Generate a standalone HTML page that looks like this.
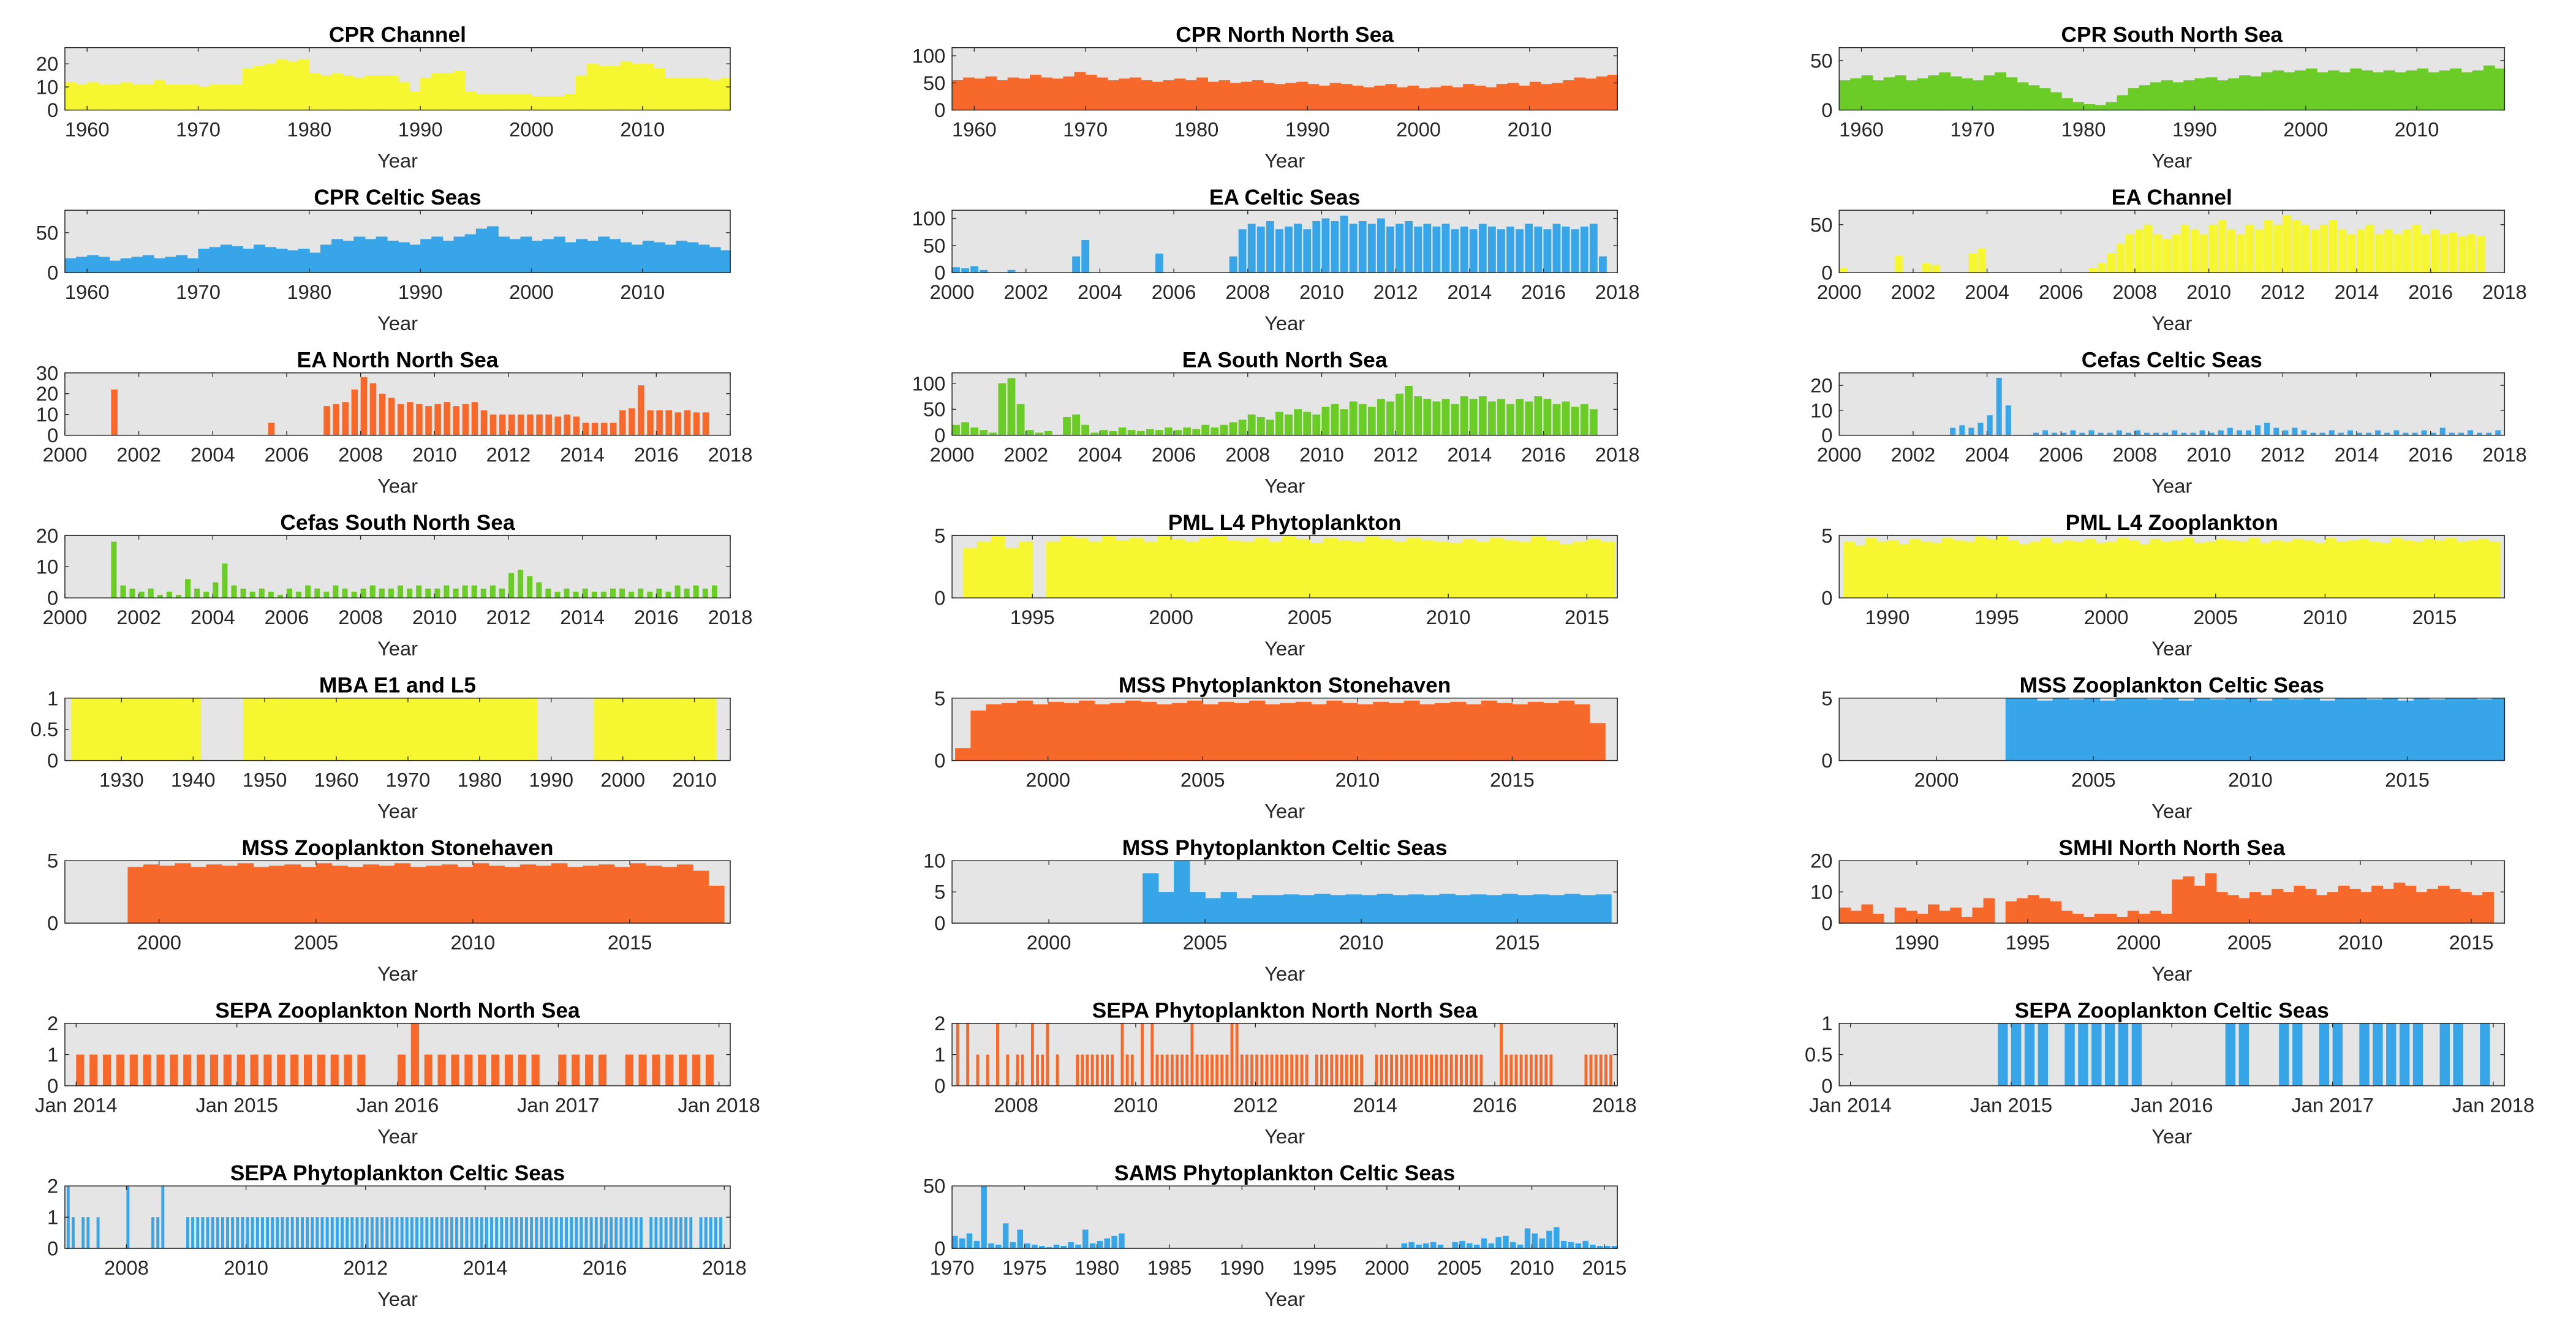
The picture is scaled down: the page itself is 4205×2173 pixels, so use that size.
<!DOCTYPE html>
<html><head><meta charset="utf-8"><style>
html,body{margin:0;padding:0;background:#fff;}
svg{display:block;}
text{font-family:"Liberation Sans",Arial,sans-serif;fill:#262626;}
.t{font-weight:bold;font-size:13.2px;fill:#000;}
.k{font-size:12.2px;}
</style></head><body>
<svg id="fig" xmlns="http://www.w3.org/2000/svg" width="4205" height="2173" viewBox="0 0 1568 810.3" preserveAspectRatio="none"></svg>
<script>
// ---- data arrays ----
const cprChannelVals=[12,11,12,11,11,12,11,11,13,11,11,11,10,11,11,11,18,19,20,22,21,22,16,15,16,15,14,15,15,15,12,8,14,16,16,17,8,7,7,7,7,7,6,6,6,7,15,20,19,19,21,20,20,18,14,14,14,14,13,14];
const cprNNSVals=[55,60,58,62,55,60,58,65,60,58,62,70,65,60,55,58,60,55,52,55,58,55,60,52,55,50,52,55,50,48,50,52,48,45,50,48,45,42,45,48,42,45,40,42,45,42,48,45,42,48,50,45,52,48,50,55,60,58,62,65];
const cprSNSVals=[30,32,35,30,33,35,30,32,35,38,34,32,30,35,38,33,28,25,22,18,12,8,6,5,8,15,22,25,28,30,28,30,32,33,30,32,35,34,38,40,38,40,42,38,40,38,42,40,38,40,38,40,42,38,40,42,38,40,45,42];
const cprCelticVals=[18,20,22,20,15,18,20,22,18,20,22,18,30,32,35,33,30,35,32,30,28,30,25,35,42,40,45,42,45,40,38,35,42,45,40,45,48,55,58,45,42,45,40,42,45,38,42,40,45,42,38,35,40,38,35,40,38,35,32,28];
const eaCelticVals=[10,8,12,5,0,0,5,0,0,0,0,0,0,30,60,0,0,0,0,0,0,0,35,0,0,0,0,0,0,0,30,80,90,85,95,80,85,90,80,95,100,95,105,90,95,90,100,85,90,95,85,90,85,90,80,85,80,90,85,80,85,80,90,85,80,90,85,80,85,90,30,0];
const eaChannelVals=[5,0,0,0,0,0,18,0,0,10,8,0,0,0,20,25,0,0,0,0,0,0,0,0,0,0,0,5,10,20,30,40,45,50,40,35,40,50,45,40,50,55,45,40,50,45,55,50,60,55,50,45,50,55,45,40,45,50,40,45,40,45,50,40,45,40,42,38,40,38,0,0];
const eaNNSVals=[0,0,0,0,0,22,0,0,0,0,0,0,0,0,0,0,0,0,0,0,0,0,6,0,0,0,0,0,14,15,16,22,28,25,20,18,15,16,15,14,15,16,14,15,16,12,10,10,10,10,10,10,10,9,10,9,6,6,6,6,12,13,24,12,12,12,11,12,11,11,0,0];
const eaSNSVals=[20,25,15,10,5,100,110,60,10,5,8,0,35,40,20,5,10,8,15,10,8,12,10,15,10,15,12,20,15,20,25,30,40,35,30,45,40,50,45,40,55,60,50,65,60,55,70,65,80,95,75,70,65,70,60,75,70,75,65,70,60,70,65,75,70,60,65,55,60,50,0,0];
const cefasCelticVals=[0,0,0,0,0,0,0,0,0,0,0,0,3,4,3,5,8,23,12,0,0,1,2,1,1,2,1,2,1,1,2,1,2,1,1,1,2,1,1,2,1,2,3,2,2,4,5,3,2,3,2,1,1,2,1,2,1,1,2,1,2,1,1,2,1,3,1,1,2,1,1,2];
const cefasSNSVals=[0,0,0,0,0,18,4,3,2,3,1,2,1,6,3,2,5,11,4,3,2,3,2,1,3,2,4,3,2,4,3,2,3,4,3,3,4,3,4,3,3,4,3,4,4,3,4,3,8,9,7,5,3,2,3,2,3,2,2,3,3,2,3,2,3,2,4,3,4,3,4,0];
const pmlPhytoVals=[4,4.5,5,4,4.5,0,4.5,5,4.8,4.5,5,4.6,4.8,4.5,5,4.7,4.5,4.8,5,4.6,4.5,4.8,4.5,5,4.7,4.4,4.8,4.6,4.5,4.9,4.7,4.5,4.8,4.6,4.5,4.4,4.7,4.5,4.8,4.6,4.5,4.9,4.6,4.3,4.5,4.7,4.5];
const pmlZooVals=[4.5,4.2,4.8,4.5,4.6,4.3,4.7,4.5,4.4,4.8,4.6,4.5,4.9,4.7,5,4.6,4.3,4.5,4.8,4.4,4.6,4.5,4.7,4.4,4.5,4.8,4.6,4.3,4.7,4.5,4.6,4.8,4.4,4.5,4.7,4.6,4.5,4.8,4.4,4.6,4.5,4.7,4.6,4.4,4.8,4.5,4.6,4.7,4.5,4.4,4.8,4.6,4.5,4.7,4.6,4.8,4.5,4.6,4.7,4.5];
const mbaVals=[0,1,1,1,1,1,1,1,1,1,1,1,1,1,1,1,1,1,1,0,0,0,0,0,0,1,1,1,1,1,1,1,1,1,1,1,1,1,1,1,1,1,1,1,1,1,1,1,1,1,1,1,1,1,1,1,1,1,1,1,1,1,1,1,1,1,0,0,0,0,0,0,0,0,1,1,1,1,1,1,1,1,1,1,1,1,1,1,1,1,1,0,0];
const mssPhytoStoneVals=[1,4,4.5,4.6,4.8,4.5,4.7,4.6,4.8,4.5,4.6,4.8,4.7,4.5,4.6,4.8,4.5,4.7,4.6,4.8,4.5,4.6,4.7,4.5,4.8,4.6,4.5,4.7,4.6,4.8,4.5,4.6,4.7,4.5,4.8,4.6,4.5,4.7,4.6,4.8,4.5,3];
const mssZooCelticVals=[5,5,4.8,5,4.9,5,4.8,5,5,4.9,5,4.8,5,4.9,5,5,4.8,5,4.9,5,4.8,5,5,4.9,5,4.8,5,4.9,5,5,4.9,5];
const mssZooStoneVals=[4.5,4.7,4.6,4.8,4.5,4.7,4.6,4.8,4.5,4.6,4.7,4.5,4.8,4.6,4.5,4.7,4.6,4.8,4.5,4.6,4.7,4.5,4.8,4.6,4.5,4.7,4.6,4.8,4.5,4.6,4.7,4.5,4.8,4.6,4.5,4.7,4.2,3];
const mssPhytoCelticVals=[8,5,10,5,4,5,4,4.5,4.5,4.6,4.5,4.7,4.5,4.6,4.5,4.7,4.5,4.6,4.5,4.7,4.5,4.6,4.5,4.7,4.5,4.6,4.5,4.7,4.5,4.6];
const smhiVals=[5,4,6,3,0,5,4,3,6,4,5,2,5,8,0,7,8,9,8,7,4,3,2,3,3,2,4,3,4,3,14,15,12,16,10,9,8,10,9,11,10,12,11,9,10,12,11,10,12,11,13,12,10,11,12,11,10,9,10,0];
const sepaZooNNSVals=[1,1,1,1,1,1,1,1,1,1,1,1,1,1,1,1,1,1,1,1,1,1,0,0,1,2,1,1,1,1,1,1,1,1,1,0,1,1,1,1,0,1,1,1,1,1,1,1];
const sepaPhytoNNSVals=[2,0,2,0,1,0,1,0,2,0,1,0, 1,1,0,2,1,1,2,0,1,0,0,0, 1,1,1,1,1,1,1,1,0,2,1,1, 0,2,0,2,1,1,1,1,1,1,1,2, 1,1,1,1,1,1,1,2,2,1,1,1, 1,1,1,1,1,1,1,1,1,1,1,0, 1,1,1,1,1,1,1,1,1,1,0,0, 1,1,1,1,1,1,1,1,1,1,1,1, 1,1,1,1,1,1,1,1,1,1,0,0, 0,2,1,1,1,1,1,1,1,1,1,1, 0,0,0,0,0,0,1,1,1,1,1,1];
const sepaZooCelticVals=[0,0,0,0,0,0,0,0,0,0,0,1,1,1,1,0,1,1,1,1,1,1,0,0,0,0,0,0,1,1,0,0,1,1,0,1,1,0,1,1,1,1,1,0,1,1,0,1];
const sepaPhytoCelticVals=[2,1,0,1,1,0,1,0,0,0,0,0,2,0,0,0,0,1,1,2,0,0,0,0,1,1,1,1,1,1,1,1,1,1,1,1,1,1,1,1,1,1,1,1,1,1,1,1,1,1,1,1,1,1,1,1,1,1,1,1,1,1,1,1,1,1,1,1,1,1,1,1,1,1,1,1,1,1,1,1,1,1,1,1,1,1,1,1,1,1,1,1,1,1,1,1,1,1,1,1,1,1,1,1,1,1,1,1,1,1,1,1,1,1,1,1,0,1,1,1,1,1,1,1,1,1,0,1,1,1,1,1];
const samsVals=[10,8,12,6,50,4,3,20,5,15,4,3,2,1,3,2,5,3,15,4,6,8,10,12,0,0,0,0,0,0,0,0,0,0,0,0,0,0,0,0,0,0,0,0,0,0,0,0,0,0,0,0,0,0,0,0,0,0,0,0,0,0,4,5,3,4,5,3,0,5,6,4,3,8,4,9,10,5,3,16,12,8,14,17,6,5,4,6,3,2,2,2];
const yearTicks10=[1960,1970,1980,1990,2000,2010];
const yearTicks2=[2000,2002,2004,2006,2008,2010,2012,2014,2016,2018];
const yearTicks5=[1995,2000,2005,2010,2015];
const janTicks=[2014,2015,2016,2017,2018];

const YEL='#f6f631',ORA='#f7692b',BLU='#37a5e8',GRN='#6bcb27';
const COLS=[39.5,579.5,1119.5], W=405, H=38;
const panels=[
 {n:'cpr-channel',t:'CPR Channel',c:0,r:0,x0:1958,x1:2017.9,y1:27,yt:[0,10,20],xt:yearTicks10,v:cprChannelVals,s:1958,st:1,col:YEL,f:1},
 {n:'cpr-north-north-sea',t:'CPR North North Sea',c:1,r:0,x0:1958,x1:2017.9,y1:115,yt:[0,50,100],xt:yearTicks10,v:cprNNSVals,s:1958,st:1,col:ORA,f:1},
 {n:'cpr-south-north-sea',t:'CPR South North Sea',c:2,r:0,x0:1958,x1:2017.9,y1:63,yt:[0,50],xt:yearTicks10,v:cprSNSVals,s:1958,st:1,col:GRN,f:1},
 {n:'cpr-celtic-seas',t:'CPR Celtic Seas',c:0,r:1,x0:1958,x1:2017.9,y1:78,yt:[0,50],xt:yearTicks10,v:cprCelticVals,s:1958,st:1,col:BLU,f:1},
 {n:'ea-celtic-seas',t:'EA Celtic Seas',c:1,r:1,x0:2000,x1:2018,y1:115,yt:[0,50,100],xt:yearTicks2,v:eaCelticVals,s:2000,st:0.25,col:BLU,f:0.85},
 {n:'ea-channel',t:'EA Channel',c:2,r:1,x0:2000,x1:2018,y1:65,yt:[0,50],xt:yearTicks2,v:eaChannelVals,s:2000,st:0.25,col:YEL,f:0.9},
 {n:'ea-north-north-sea',t:'EA North North Sea',c:0,r:2,x0:2000,x1:2018,y1:30,yt:[0,10,20,30],xt:yearTicks2,v:eaNNSVals,s:2000,st:0.25,col:ORA,f:0.7},
 {n:'ea-south-north-sea',t:'EA South North Sea',c:1,r:2,x0:2000,x1:2018,y1:120,yt:[0,50,100],xt:yearTicks2,v:eaSNSVals,s:2000,st:0.25,col:GRN,f:0.85},
 {n:'cefas-celtic-seas',t:'Cefas Celtic Seas',c:2,r:2,x0:2000,x1:2018,y1:25,yt:[0,10,20],xt:yearTicks2,v:cefasCelticVals,s:2000,st:0.25,col:BLU,f:0.6},
 {n:'cefas-south-north-sea',t:'Cefas South North Sea',c:0,r:3,x0:2000,x1:2018,y1:20,yt:[0,10,20],xt:yearTicks2,v:cefasSNSVals,s:2000,st:0.25,col:GRN,f:0.6},
 {n:'pml-l4-phytoplankton',t:'PML L4 Phytoplankton',c:1,r:3,x0:1992.1,x1:2016.1,y1:5,yt:[0,5],xt:yearTicks5,v:pmlPhytoVals,s:1992.5,st:0.5,col:YEL,f:1},
 {n:'pml-l4-zooplankton',t:'PML L4 Zooplankton',c:2,r:3,x0:1987.8,x1:2018.2,y1:5,yt:[0,5],xt:[1990,1995,2000,2005,2010,2015],v:pmlZooVals,s:1988,st:0.5,col:YEL,f:1},
 {n:'mba-e1-and-l5',t:'MBA E1 and L5',c:0,r:4,x0:1922.1,x1:2015,y1:1,yt:[0,0.5,1],xt:[1930,1940,1950,1960,1970,1980,1990,2000,2010],v:mbaVals,s:1922,st:1,col:YEL,f:1},
 {n:'mss-phytoplankton-stonehaven',t:'MSS Phytoplankton Stonehaven',c:1,r:4,x0:1996.9,x1:2018.4,y1:5,yt:[0,5],xt:[2000,2005,2010,2015],v:mssPhytoStoneVals,s:1997,st:0.5,col:ORA,f:1},
 {n:'mss-zooplankton-celtic-seas',t:'MSS Zooplankton Celtic Seas',c:2,r:4,x0:1996.9,x1:2018.1,y1:5,yt:[0,5],xt:[2000,2005,2010,2015],v:mssZooCelticVals,s:2002.2,st:0.5,col:BLU,f:1},
 {n:'mss-zooplankton-stonehaven',t:'MSS Zooplankton Stonehaven',c:0,r:5,x0:1997,x1:2018.2,y1:5,yt:[0,5],xt:[2000,2005,2010,2015],v:mssZooStoneVals,s:1999,st:0.5,col:ORA,f:1},
 {n:'mss-phytoplankton-celtic-seas',t:'MSS Phytoplankton Celtic Seas',c:1,r:5,x0:1996.9,x1:2018.2,y1:10,yt:[0,5,10],xt:[2000,2005,2010,2015],v:mssPhytoCelticVals,s:2003,st:0.5,col:BLU,f:1},
 {n:'smhi-north-north-sea',t:'SMHI North North Sea',c:2,r:5,x0:1986.5,x1:2016.5,y1:20,yt:[0,10,20],xt:[1990,1995,2000,2005,2010,2015],v:smhiVals,s:1986.5,st:0.5,col:ORA,f:1},
 {n:'sepa-zooplankton-north-north-sea',t:'SEPA Zooplankton North North Sea',c:0,r:6,x0:2013.93,x1:2018.07,y1:2,yt:[0,1,2],xt:janTicks,jan:1,v:sepaZooNNSVals,s:2014,st:1/12,col:ORA,f:0.6},
 {n:'sepa-phytoplankton-north-north-sea',t:'SEPA Phytoplankton North North Sea',c:1,r:6,x0:2006.93,x1:2018.05,y1:2,yt:[0,1,2],xt:[2008,2010,2012,2014,2016,2018],v:sepaPhytoNNSVals,s:2007,st:1/12,col:ORA,f:0.6},
 {n:'sepa-zooplankton-celtic-seas',t:'SEPA Zooplankton Celtic Seas',c:2,r:6,x0:2013.93,x1:2018.07,y1:1,yt:[0,0.5,1],xt:janTicks,jan:1,v:sepaZooCelticVals,s:2014,st:1/12,col:BLU,f:0.75},
 {n:'sepa-phytoplankton-celtic-seas',t:'SEPA Phytoplankton Celtic Seas',c:0,r:7,x0:2006.97,x1:2018.1,y1:2,yt:[0,1,2],xt:[2008,2010,2012,2014,2016,2018],v:sepaPhytoCelticVals,s:2007,st:1/12,col:BLU,f:0.6},
 {n:'sams-phytoplankton-celtic-seas',t:'SAMS Phytoplankton Celtic Seas',c:1,r:7,x0:1970,x1:2015.9,y1:50,yt:[0,50],xt:[1970,1975,1980,1985,1990,1995,2000,2005,2010,2015],v:samsVals,s:1970,st:0.5,col:BLU,f:0.8}
];
const NS='http://www.w3.org/2000/svg';
const svg=document.getElementById('fig');
function mk(tag,attrs,parent){const e=document.createElementNS(NS,tag);for(const k in attrs)e.setAttribute(k,attrs[k]);parent.appendChild(e);return e;}
panels.forEach(p=>{
 const L=COLS[p.c],T=29+99*p.r,B=T+H,R=L+W;
 const xs=x=>L+(x-p.x0)/(p.x1-p.x0)*W;
 const ys=y=>B-y/p.y1*H;
 const g=mk('g',{},svg);
 
 
 const bg=mk('rect',{x:L,y:T,width:W,height:H,fill:'#e5e5e5'},g);
 
 
 const bars=mk('g',{fill:p.col},g);
 
 
 p.v.forEach((v,i)=>{
  if(v<=0)return;
  const a=p.s+i*p.st, x=xs(a), w=xs(a+p.st*p.f)-x;
  const xx=Math.max(x,L), ww=Math.min(x+w,R)-xx; if(ww<=0)return;
  const yy=Math.max(ys(v),T);
  const b=mk('rect',{x:xx,y:yy,width:ww+(p.f===1?0.3:0),height:B-yy},bars);
  
  
 });
 mk('rect',{x:L,y:T,width:W,height:H,fill:'none',stroke:'#262626','stroke-width':0.55},g);
 p.xt.forEach(t=>{
  const x=xs(t);
  mk('line',{x1:x,x2:x,y1:T,y2:T+2.5,stroke:'#262626','stroke-width':0.5},g);
  mk('line',{x1:x,x2:x,y1:B,y2:B-2.5,stroke:'#262626','stroke-width':0.5},g);
  const lb=mk('text',{x:x,y:B+16,'text-anchor':'middle',class:'k'},g);
  lb.textContent=p.jan?('Jan '+t):String(t);
  
  
 });
 p.yt.forEach(t=>{
  const y=ys(t);
  mk('line',{x1:L,x2:L+2.5,y1:y,y2:y,stroke:'#262626','stroke-width':0.5},g);
  mk('line',{x1:R,x2:R-2.5,y1:y,y2:y,stroke:'#262626','stroke-width':0.5},g);
  const lb=mk('text',{x:L-4,y:y+4.3,'text-anchor':'end',class:'k'},g);
  lb.textContent=String(t);
  
  
 });
 const tt=mk('text',{x:L+W/2,y:T-3.5,'text-anchor':'middle',class:'t'},g);
 tt.textContent=p.t;
 
 
 const xl=mk('text',{x:L+W/2,y:B+35,'text-anchor':'middle',class:'k'},g);
 xl.textContent='Year';
 
 
});
</script>
</body></html>
